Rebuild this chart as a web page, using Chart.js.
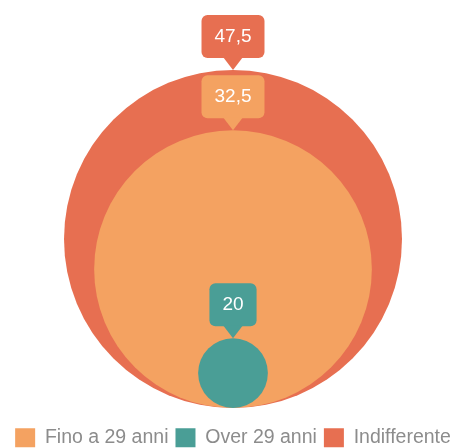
<!DOCTYPE html>
<html><head><meta charset="utf-8">
<script src="https://cdn.jsdelivr.net/npm/chart.js@4.4.1/dist/chart.umd.min.js"></script>
<style>html,body{margin:0;padding:0;background:#fff;} #wrap{width:459px;height:448px;position:relative;}</style>
</head><body><div id="wrap"><canvas id="c"></canvas></div>
<script>
const categories = ['Fino a 29 anni', 'Over 29 anni', 'Indifferente'];
const values = [32.5, 20, 47.5];
const colors = ['#F4A261', '#4A9E96', '#E76F51'];
const drawOrder = [1, 0, 2];

// bubble size mapping (style): relative radius from value
const sizing = { zMin: 19.95, exponent: 0.25 };
const zMax = Math.max(...values);
function relSize(v) { return Math.pow((v - sizing.zMin) / (zMax - sizing.zMin), sizing.exponent); }
function fmt(v) { return String(v).replace('.', ','); }

const callouts = {
  id: 'callouts',
  afterDatasetsDraw(chart) {
    const ctx = chart.ctx;
    ctx.save();
    ctx.font = '19px "Liberation Sans", Arial, sans-serif';
    ctx.textAlign = 'center';
    ctx.textBaseline = 'middle';
    chart.data.datasets.forEach((ds, i) => {
      const el = chart.getDatasetMeta(i).data[0];
      if (!el) return;
      const r = el.options.radius;
      const tipY = el.y - r;
      const text = fmt(values[i]);
      const w = ctx.measureText(text).width + 26;
      const h = 43, ph = 12, pw = 10;
      const bx = el.x - w / 2, by = tipY - ph - h;
      ctx.fillStyle = ds.backgroundColor;
      ctx.beginPath();
      ctx.roundRect(bx, by, w, h, 6);
      ctx.fill();
      ctx.beginPath();
      ctx.moveTo(el.x - pw, by + h - 1);
      ctx.lineTo(el.x, tipY);
      ctx.lineTo(el.x + pw, by + h - 1);
      ctx.closePath();
      ctx.fill();
      ctx.fillStyle = '#ffffff';
      ctx.fillText(text, el.x, by + h / 2);
    });
    ctx.restore();
  }
};

const chart = new Chart(document.getElementById('c'), {
  type: 'bubble',
  data: {
    datasets: categories.map((c, i) => ({
      label: c,
      data: [{ x: 0, y: relSize(values[i]), r: 1 }],
      backgroundColor: colors[i],
      borderWidth: 0,
      order: drawOrder[i],
      hoverRadius: 0,
      clip: false
    }))
  },
  options: {
    responsive: true,
    maintainAspectRatio: false,
    animation: false,
    events: [],
    layout: { autoPadding: false, padding: { top: 70, left: 7, right: 0, bottom: -9.5 } },
    scales: {
      x: {
        min: -1, max: 1,
        display: true,
        grid: { display: false },
        border: { display: false },
        ticks: { display: false },
        afterFit(scale) { scale.height = 13; }
      },
      y: { min: 0, max: 2 * Math.max(...values.map(relSize)), display: false }
    },
    plugins: {
      tooltip: { enabled: false },
      legend: {
        position: 'bottom',
        labels: {
          boxWidth: 20,
          boxHeight: 19,
          padding: 7,
          color: '#8c8c8c',
          font: { family: '"Liberation Sans", Arial, sans-serif', size: 19.5 },
          sort: (a, b) => a.datasetIndex - b.datasetIndex
        }
      }
    }
  },
  plugins: [callouts]
});

// bubble radius in pixels taken from the y scale (radius units = value units of y)
const yScale = chart.scales.y;
chart.data.datasets.forEach((ds, i) => {
  ds.data[0].r = Math.abs(yScale.getPixelForValue(0) - yScale.getPixelForValue(relSize(values[i])));
});
chart.update();
</script>
</body></html>
